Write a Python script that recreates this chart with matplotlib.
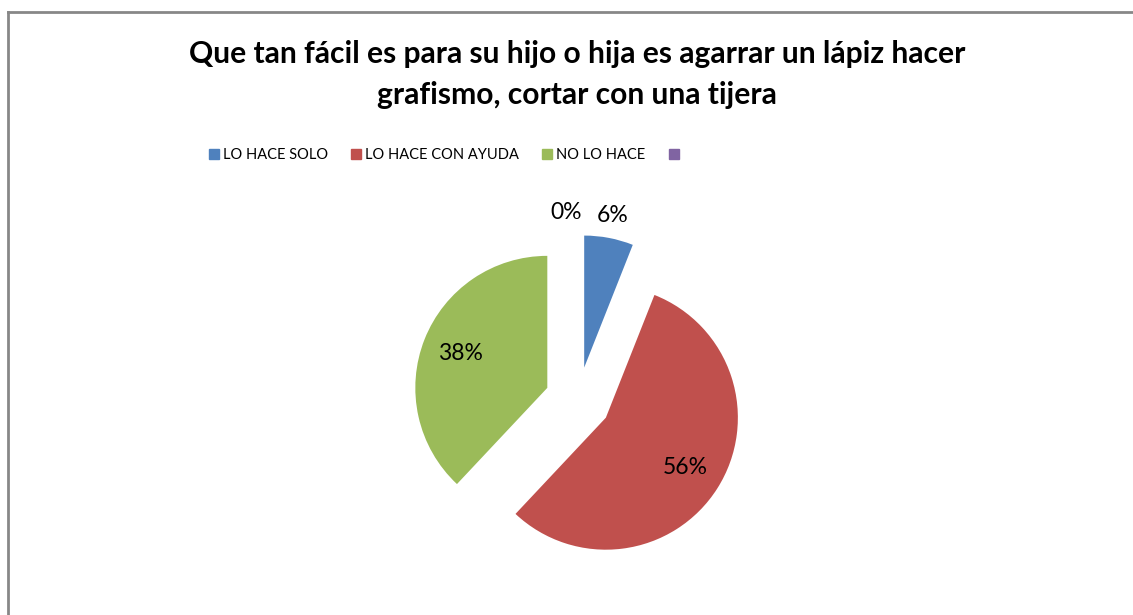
import matplotlib
matplotlib.use('agg')

import numpy as np
import matplotlib.pyplot as plt
from matplotlib.lines import Line2D

plt.rcParams['font.family'] = ['Lato', 'DejaVu Sans']

# data
categories = ['LO HACE SOLO', 'LO HACE CON AYUDA', 'NO LO HACE', '']
values = [6, 56, 38, 0]
colors = ['#4F81BD', '#C0504D', '#9BBB59', '#8064A2']
title = 'Que tan fácil es para su hijo o hija es agarrar un lápiz hacer\ngrafismo, cortar con una tijera'

W, H = 1133, 615
fig = plt.figure(figsize=(W / 100, H / 100), dpi=100)

# pie axes: center at (578, 400) px, radius 132 px
R = 132
cx, cy = 578, 400
half = 1.5 * R
ax = fig.add_axes([(cx - half) / W, (H - cy - half) / H, 2 * half / W, 2 * half / H])

explode = [0.25] * len(values)
wedges, texts, autotexts = ax.pie(values, colors=colors, explode=explode,
                                  startangle=90, counterclock=False,
                                  autopct='%1.0f%%', pctdistance=0.71,
                                  textprops={'fontsize': 16.5, 'color': 'black'},
                                  wedgeprops={'linewidth': 0})
ax.set_xlim(-1.5, 1.5)
ax.set_ylim(-1.5, 1.5)
ax.set_aspect('auto')
ax.axis('off')

# small slices get their label outside, as in the original
for i, (w, t) in enumerate(zip(wedges, autotexts)):
    if values[i] < 10:
        ang = np.deg2rad((w.theta1 + w.theta2) / 2)
        x0, y0 = w.center
        x = x0 + 1.17 * np.cos(ang)
        y = y0 + 1.17 * np.sin(ang)
        if values[i] == 0:
            x -= 0.09
        t.set_position((x, y))

fig.suptitle(title, fontsize=21.6, fontweight='bold', x=577 / W, y=1 - 40 / H,
             va='top', linespacing=1.55)

handles = [plt.Rectangle((0, 0), 1, 1, color=c) for c in colors]
fig.legend(handles, categories, loc='center', bbox_to_anchor=(446 / W, 1 - 155 / H),
           ncol=4, frameon=False, fontsize=10.5, handlelength=0.68, handleheight=0.68,
           handletextpad=0.28, columnspacing=1.58)

# chart frame (top and left edges visible)
fig.add_artist(Line2D([7.5 / W, 1], [1 - 11.5 / H, 1 - 11.5 / H], color='#878787', lw=2))
fig.add_artist(Line2D([7.5 / W, 7.5 / W], [0, 1 - 11.5 / H], color='#878787', lw=2))

plt.savefig('out.png', dpi=100)
